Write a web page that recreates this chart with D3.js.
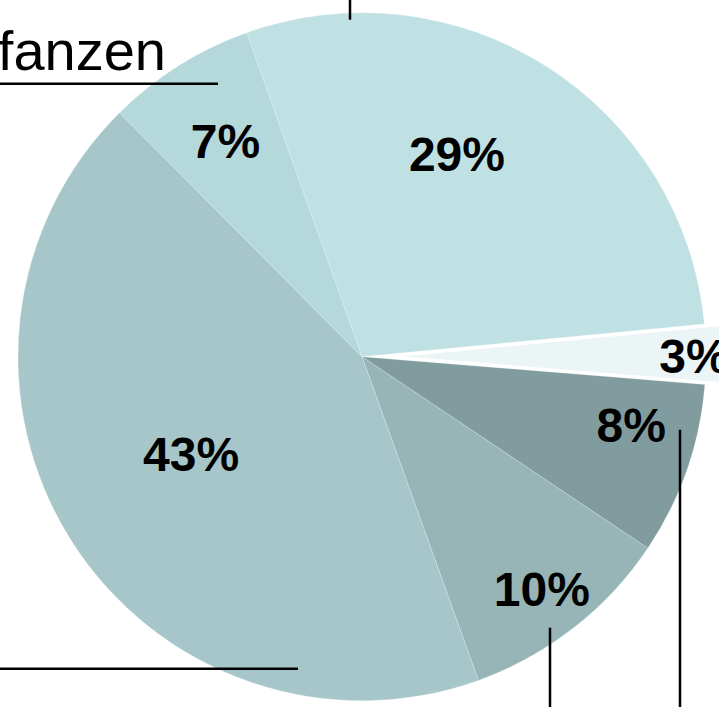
<!DOCTYPE html>
<html>
<head>
<meta charset="utf-8">
<script src="https://cdn.jsdelivr.net/npm/d3@7"></script>
<style>
	html, body { margin: 0; padding: 0; background: #fff; overflow: hidden; }
	svg { display: block; }
</style>
</head>
<body>
<div id="main_node"></div>
<script>
// slice values, clockwise from the first slice
var shares = [28.9, 2.8, 8.1, 10.1, 43.0, 7.0];
var sliceColors = ["#c0e1e4", "#ebf5f6", "#819c9e", "#97b5b7", "#a6c6c9", "#b5d8db"];
var exploded = [false, true, false, false, false, false];
// where the percent labels sit: angle (deg, clockwise from top) and distance from the centre
var labelAngle = [25.2, 90, 104.4, 142.3, 240.2, -32.4];
var labelDist = [223, 332, 278, 294, 197, 255];

var width = 719,
	height = 707;
var cx = 362,
	cy = 356.7,
	radius = 344,
	explodeBy = 30;

var svg = d3
	.select("#main_node")
	.append("svg")
	.attr("width", width)
	.attr("height", height);

var g = svg.append("g").attr("transform", "translate(" + cx + "," + cy + ")");

var pie = d3
	.pie()
	.sort(null)
	.startAngle((-19.6 * Math.PI) / 180)
	.endAngle((340.4 * Math.PI) / 180)
	.value(function (d) {
		return d;
	});

var arc = d3.arc().innerRadius(0).outerRadius(radius);

var arcs = pie(shares);

g.selectAll("path")
	.data(arcs)
	.enter()
	.append("path")
	.attr("d", arc)
	.attr("fill", function (d, i) {
		return sliceColors[i];
	})
	.attr("stroke", "#fff")
	.attr("stroke-opacity", function (d, i) {
		return exploded[i] ? 1 : 0.5;
	})
	.attr("stroke-width", function (d, i) {
		return exploded[i] ? 2 : 0.4;
	})
	.attr("transform", function (d, i) {
		if (!exploded[i]) return null;
		var mid = (d.startAngle + d.endAngle) / 2;
		return "translate(" + Math.sin(mid) * explodeBy + "," + -Math.cos(mid) * explodeBy + ")";
	});

// percent labels
g.selectAll("text.pct")
	.data(arcs)
	.enter()
	.append("text")
	.attr("class", "pct")
	.attr("x", function (d, i) {
		return Math.sin((labelAngle[i] * Math.PI) / 180) * labelDist[i];
	})
	.attr("y", function (d, i) {
		return -Math.cos((labelAngle[i] * Math.PI) / 180) * labelDist[i];
	})
	.attr("text-anchor", "middle")
	.attr("dominant-baseline", "central")
	.style("font-family", "'Liberation Sans', Arial, sans-serif")
	.style("font-weight", "bold")
	.style("font-size", "48px")
	.attr("fill", "#000")
	.text(function (d) {
		return Math.round(d.value) + "%";
	});

// leader lines to the outside labels (offsets from the pie centre)
var leaders = [
	[[-12, -357], [-12, -337]],
	[[-367, -273], [-144, -273]],
	[[-367, 312], [-64, 312]],
	[[188, 271], [188, 355]],
	[[318, 73], [318, 355]],
];

g.selectAll("line.leader")
	.data(leaders)
	.enter()
	.append("line")
	.attr("class", "leader")
	.attr("x1", function (d) { return d[0][0]; })
	.attr("y1", function (d) { return d[0][1]; })
	.attr("x2", function (d) { return d[1][0]; })
	.attr("y2", function (d) { return d[1][1]; })
	.attr("stroke", "#000")
	.attr("stroke-width", 2.5);

// outside label, mostly cut off by the frame
svg.append("text")
	.attr("x", 166)
	.attr("y", 70)
	.attr("text-anchor", "end")
	.style("font-family", "'Liberation Sans', Arial, sans-serif")
	.style("font-size", "56px")
	.attr("fill", "#000")
	.text("fanzen");
</script>
</body>
</html>
